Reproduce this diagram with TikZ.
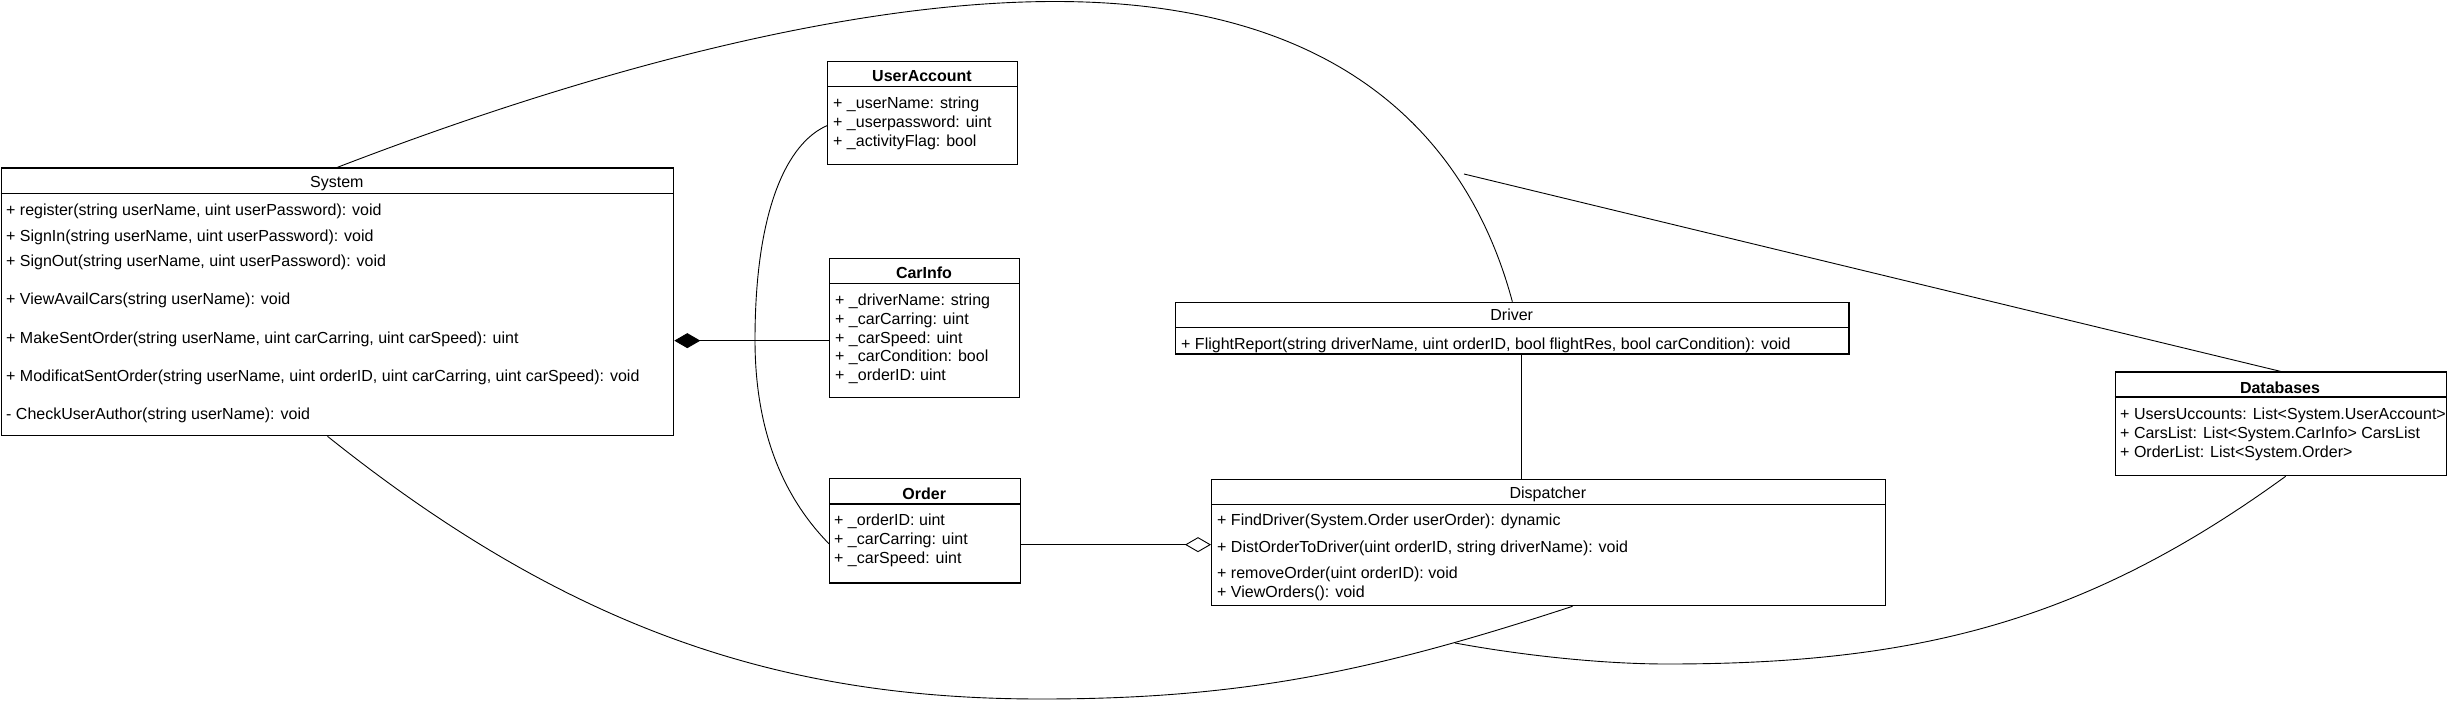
\documentclass[tikz,border=0pt]{standalone}
\usepackage{fontspec}
\setmainfont{Liberation Sans}
\usetikzlibrary{arrows.meta}
\newcommand\dsz{\fontsize{16pt}{19pt}\selectfont}
\begin{document}
\begin{tikzpicture}[x=1pt,y=-1pt,
  box/.style={draw, line width=1.3pt, inner sep=0pt, anchor=north west},
  hdr/.style={line width=1.3pt},
  ttl/.style={anchor=base, inner sep=0pt, font=\dsz\bfseries},
  ttn/.style={anchor=base, inner sep=0pt, font=\dsz},
  row/.style={anchor=base west, inner sep=0pt, font=\dsz},
  conn/.style={line width=0.9pt}]
\fill[white] (0,0) rectangle (2447,701);
\useasboundingbox (0,0) rectangle (2447,701);

% ---------- boxes ----------
\node[box, minimum width=672.3pt, minimum height=267.7pt] (sys) at (0.7,167.3) {};
\draw[hdr] ([yshift=-26.2pt]sys.north west) -- ([yshift=-26.2pt]sys.north east);
\node[box, minimum width=190pt, minimum height=103pt] (ua) at (827,61) {};
\draw[hdr] ([yshift=-25.3pt]ua.north west) -- ([yshift=-25.3pt]ua.north east);
\node[box, minimum width=190pt, minimum height=139pt] (car) at (829,258) {};
\draw[hdr] ([yshift=-25.3pt]car.north west) -- ([yshift=-25.3pt]car.north east);
\node[box, minimum width=190.5pt, minimum height=104.3pt] (ord) at (829,478) {};
\draw[hdr] ([yshift=-26pt]ord.north west) -- ([yshift=-26pt]ord.north east);
\node[box, minimum width=673.4pt, minimum height=51.6pt] (drv) at (1175,301.7) {};
\draw[hdr] ([yshift=-25.6pt]drv.north west) -- ([yshift=-25.6pt]drv.north east);
\node[box, minimum width=673.7pt, minimum height=126.3pt] (dsp) at (1211,478.7) {};
\draw[hdr] ([yshift=-25.6pt]dsp.north west) -- ([yshift=-25.6pt]dsp.north east);
\node[box, minimum width=331pt, minimum height=103.6pt] (db) at (2114.5,371.4) {};
\draw[hdr] ([yshift=-25.6pt]db.north west) -- ([yshift=-25.6pt]db.north east);

% ---------- texts ----------
\node[ttn] (sysT) at (336.85,187.3) {System};
\node[row] (s1) at (6,215.1) {+ register(string userName, uint userPassword): void};
\node[row] (s2) at (6,241.1) {+ SignIn(string userName, uint userPassword): void};
\node[row] (s3) at (6,266.8) {+ SignOut(string userName, uint userPassword): void};
\node[row] (s4) at (6,304.8) {+ ViewAvailCars(string userName): void};
\node[row] (s5) at (6,343.1) {+ MakeSentOrder(string userName, uint carCarring, uint carSpeed): uint};
\node[row] (s6) at (6,381.1) {+ ModificatSentOrder(string userName, uint orderID, uint carCarring, uint carSpeed): void};
\node[row] (s7) at (6,419.1) {- CheckUserAuthor(string userName): void};

\node[ttl] (uaT) at (922,81.8) {UserAccount};
\node[row] (u1) at (833,108.1) {+ \_userName: string};
\node[row] (u2) at (833,127.5) {+ \_userpassword: uint};
\node[row] (u3) at (833,146.1) {+ \_activityFlag: bool};

\node[ttl] (carT) at (924,278.5) {CarInfo};
\node[row] (c1) at (835,305.1) {+ \_driverName: string};
\node[row] (c2) at (835,324.1) {+ \_carCarring: uint};
\node[row] (c3) at (835,343.1) {+ \_carSpeed: uint};
\node[row] (c4) at (835,361.8) {+ \_carCondition: bool};
\node[row] (c5) at (835,380.8) {+ \_orderID: uint};

\node[ttl] (ordT) at (924.25,499.8) {Order};
\node[row] (o1) at (834,525.8) {+ \_orderID: uint};
\node[row] (o2) at (834,544.8) {+ \_carCarring: uint};
\node[row] (o3) at (834,563.5) {+ \_carSpeed: uint};

\node[ttn] (drvT) at (1511.7,320.8) {Driver};
\node[row] (d1) at (1181,349.1) {+ FlightReport(string driverName, uint orderID, bool flightRes, bool carCondition): void};

\node[ttn] (dspT) at (1547.85,498.1) {Dispatcher};
\node[row] (p1) at (1217,525.8) {+ FindDriver(System.Order userOrder): dynamic};
\node[row] (p2) at (1217,552.5) {+ DistOrderToDriver(uint orderID, string driverName): void};
\node[row] (p3) at (1217,578.1) {+ removeOrder(uint orderID): void};
\node[row] (p4) at (1217,597.5) {+ ViewOrders(): void};

\node[ttl] (dbT) at (2280,393) {Databases};
\node[row] (b1) at (2120,419.4) {+ UsersUccounts: List<System.UserAccount>};
\node[row] (b2) at (2120,438.3) {+ CarsList: List<System.CarInfo> CarsList};
\node[row] (b3) at (2120,457.3) {+ OrderList: List<System.Order>};

% ---------- connectors ----------
\coordinate (cp) at ([yshift=-12.5pt]car.west);
\draw[conn, {Diamond[length=26pt,width=15pt]}-] (sys.east |- cp) -- (cp);

\coordinate (ap) at ([yshift=-13.85pt]ord.east);
\draw[conn, -{Diamond[open,length=26pt,width=15pt]}] (ap) -- (dsp.west |- ap);

\draw[conn] ([yshift=-12.5pt]ua.west) .. controls (787,143) and (755,210) .. (755,340)
  .. controls (755,440) and (789,503) .. ([yshift=-13pt]ord.west);

\draw[conn] (sys.north) .. controls (590,70) and (850,1.5) .. (1055,1.5)
  .. controls (1355,1.5) and (1472,151) .. (drv.north);

\coordinate (dd) at ([xshift=9pt]drv.south);
\draw[conn] (dd) -- (dd |- dsp.north);

\draw[conn] ([xshift=-10pt]sys.south) .. controls (577,636) and (791,699) .. (1041,699)
  .. controls (1241,699) and (1372,672) .. ([xshift=24pt]dsp.south);

\coordinate (dbe) at (1464,174);
\draw[conn] (db.north) -- (dbe);

\coordinate (dbf) at (1455,643);
\draw[conn] ([xshift=5pt]db.south) .. controls (2085,622) and (1917,664) .. (1667,664)
  .. controls (1600,664) and (1520,655) .. (dbf);
\end{tikzpicture}
\end{document}
